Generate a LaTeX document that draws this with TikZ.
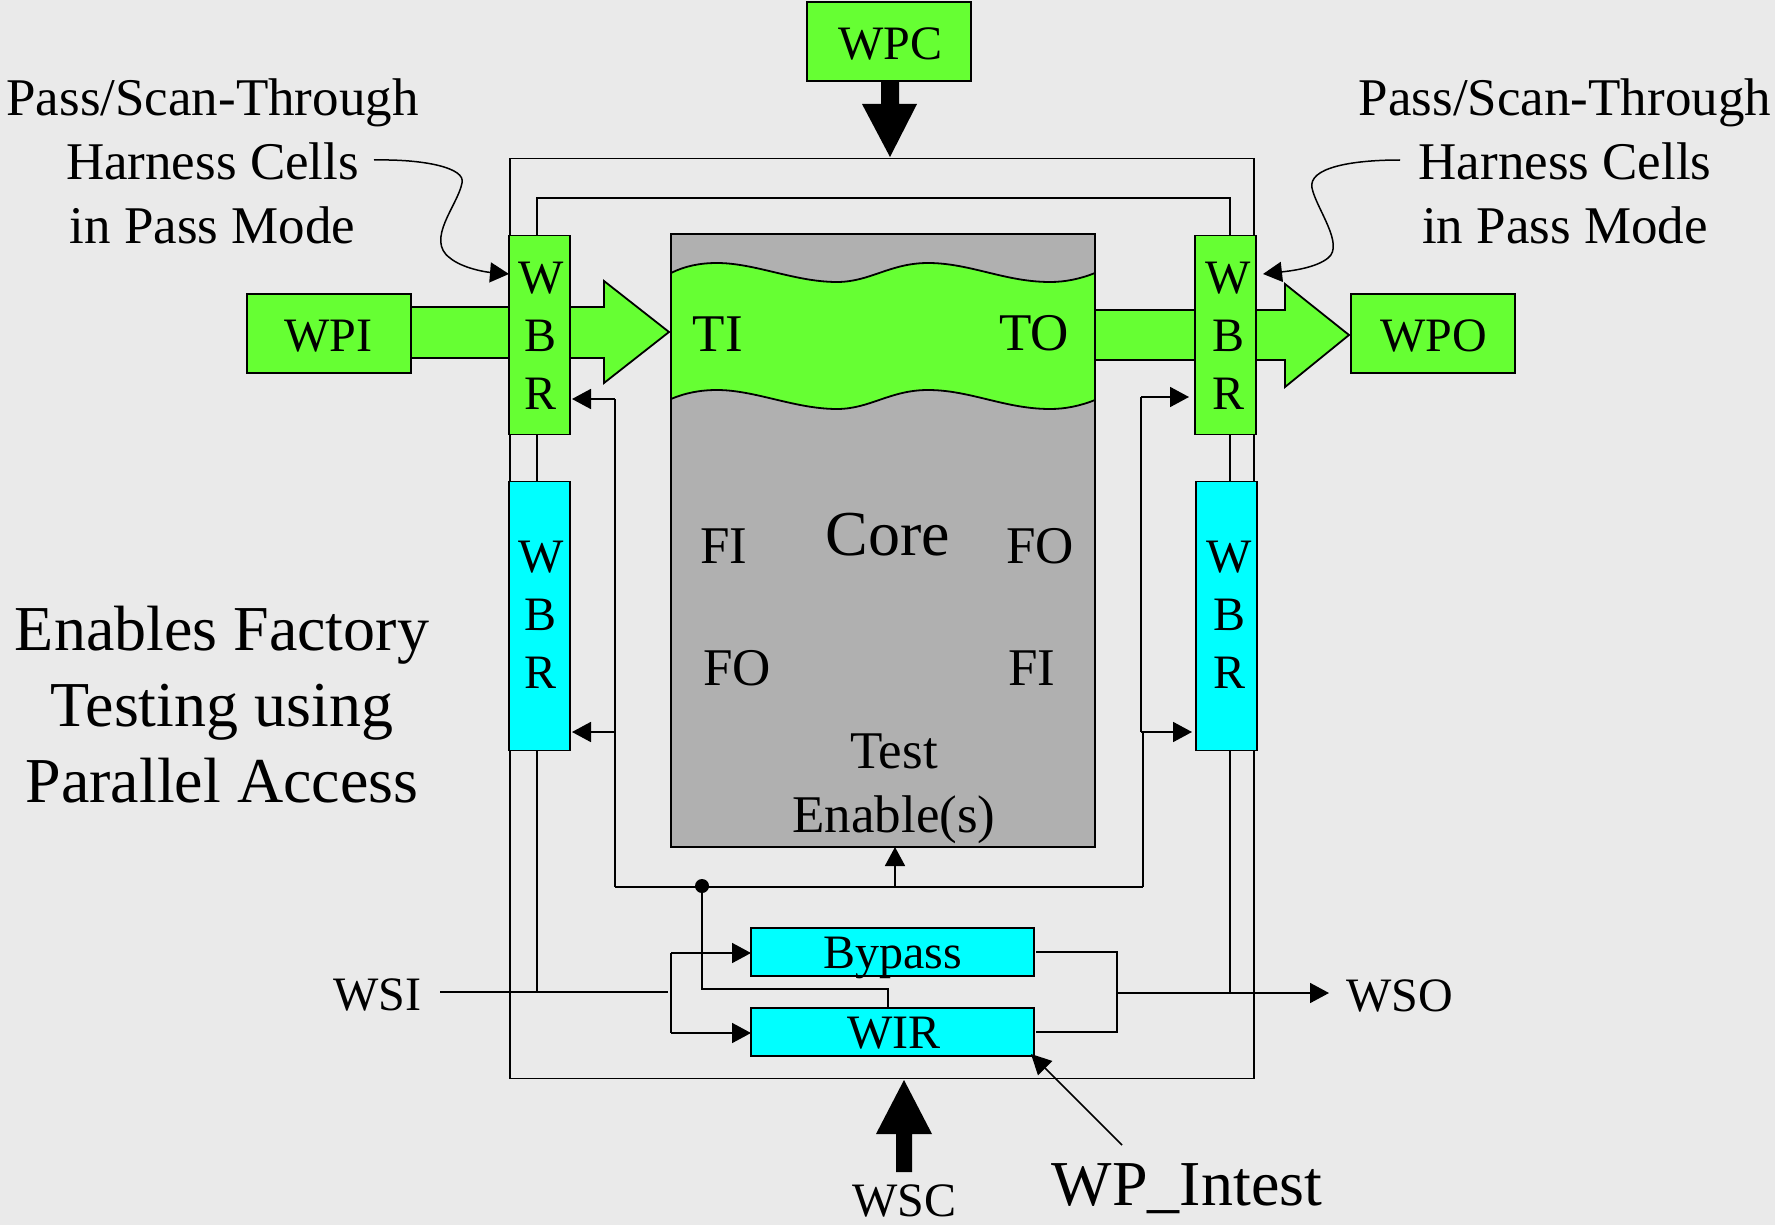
\documentclass[tikz,border=0pt]{standalone}
\usepackage{fontspec}
\setmainfont{Liberation Serif}
\usetikzlibrary{arrows.meta}
\definecolor{bgc}{HTML}{EAEAEA}
\definecolor{grn}{HTML}{66FF33}
\definecolor{cyn}{HTML}{00FFFF}
\definecolor{cor}{HTML}{B0B0B0}
\newcommand{\fs}[1]{\fontsize{#1}{#1}\selectfont}
\tikzset{
  wire/.style={draw=black,line width=1.8pt},
  tip/.style={wire,-{Triangle[length=19pt,width=20pt]}},
  box/.style={draw=black,line width=1.8pt,inner sep=0pt,outer sep=0pt,text depth=0pt,align=center},
  gbox/.style={box,fill=grn},
  cbox/.style={box,fill=cyn},
  wbr/.style={box,minimum width=61pt},
  lbl/.style={inner sep=0pt,outer sep=0pt,align=center},
  wbrlbl/.style={lbl,font=\fontsize{48}{58}\selectfont},
  big/.style={draw=black,line width=1.8pt,fill=grn,line join=miter}
}
\begin{document}
\begin{tikzpicture}[x=1pt,y=-1pt]
\useasboundingbox (0,0) rectangle (1775,1225);
\fill[bgc] (0,0) rectangle (1775,1225);

% named places
\coordinate (inL) at (537,198);
\coordinate (inR) at (1230,198);
\coordinate (busL) at (615,887);
\coordinate (busR) at (1143,887);
\coordinate (busT) at (895,887);
\coordinate (wsiS) at (440,992);
\coordinate (wsiE) at (668,992);
\coordinate (split) at (671,992);
\coordinate (wsoJ) at (1117,993);
\coordinate (wsoE) at (1329,993);

% enclosing wires
\node[draw=black,line width=1.8pt,inner sep=0pt,outer sep=0pt,minimum width=744pt,minimum height=920pt] (frame) at (882,618.5) {};
\draw[wire] (inL |- wsiS) -- (inL) -- (inR) -- (inR |- wsoJ);

% core
\node[box,fill=cor,minimum width=424pt,minimum height=613pt] (core) at (883,540.5) {};
\draw[big] (671,273)
  .. controls (685,266) and (700,263) .. (717,263)
  .. controls (755,263) and (795,282) .. (837,282)
  .. controls (870,282) and (890,263) .. (928,263)
  .. controls (970,263) and (1005,282) .. (1050,282)
  .. controls (1065,282) and (1080,279) .. (1095,273)
  -- (1095,400)
  .. controls (1080,406) and (1065,409) .. (1050,409)
  .. controls (1005,409) and (970,390) .. (928,390)
  .. controls (890,390) and (870,409) .. (837,409)
  .. controls (795,409) and (755,390) .. (717,390)
  .. controls (700,390) and (685,393) .. (671,399) -- cycle;

% big green arrows
\draw[big] (410,307) -- (604,307) -- (604,281) -- (669,332) -- (604,383) -- (604,358) -- (410,358) -- cycle;
\draw[big] (1095,310) -- (1285,310) -- (1285,284) -- (1349,335) -- (1285,387) -- (1285,360) -- (1095,360) -- cycle;

% boxes
\node[gbox,minimum width=164pt,minimum height=79pt] (wpi) at (329,333.5) {};
\node[gbox,minimum width=164pt,minimum height=79pt] (wpo) at (1433,333.5) {};
\node[gbox,minimum width=164pt,minimum height=79pt] (wpc) at (889,41.5) {};
\node[wbr,fill=grn,minimum height=199pt] (wbrLa) at (539.5,335) {};
\node[wbr,fill=grn,minimum height=199pt] (wbrRa) at (1225.5,335) {};
\node[wbr,fill=cyn,minimum height=269pt] (wbrLb) at (539.5,616) {};
\node[wbr,fill=cyn,minimum height=269pt] (wbrRb) at (1226.5,616) {};
\node[cbox,minimum width=283pt,minimum height=48pt] (byp) at (892.5,952) {};
\node[cbox,minimum width=283pt,minimum height=48pt] (wir) at (892.5,1032) {};

% thick black arrows
\fill[black] (881,81) -- (899,81) -- (899,104) -- (917,104) -- (890,157) -- (862,104) -- (881,104) -- cycle;
\fill[black] (896,1172) -- (912,1172) -- (912,1134) -- (932,1134) -- (904,1080) -- (876,1134) -- (896,1134) -- cycle;

% control bus
\draw[wire] (busL) -- (busR);
\draw[wire] (busL) -- (615,399);
\draw[tip] (615,399) -- (572,399);
\draw[tip] (615,732) -- (572,732);
\draw[wire] (busR) -- (1143,732);
\draw[wire] (1141,732) -- (1141,397);
\draw[tip] (1141,397) -- (1189,397);
\draw[tip] (1141,732) -- (1192,732);
\draw[tip] (busT) -- (busT |- core.south);
\coordinate (dot) at (702,886);
\fill[black] (dot) circle (7pt);
\draw[wire] (dot) -- (702,989) -- (888,989) -- (888,1008);

% scan path
\draw[wire] (wsiS) -- (wsiE);
\draw[wire] (671,953) -- (671,1033);
\draw[tip] (671,953) -- (byp.west |- 0,953);
\draw[tip] (671,1033) -- (wir.west |- 0,1033);
\draw[wire] (1036,952) -- (1117,952) -- (1117,1032) -- (1036,1032);
\draw[tip] (wsoJ) -- (wsoE);
\coordinate (wpS) at (1122,1145);
\draw[wire,line width=1.5pt,-{Triangle[length=20pt,width=20pt]}] (wpS) -- (1031,1054);

% curved callouts
\coordinate (cL) at (374,160);
\coordinate (cR) at (1400,160);
\draw[tip,line width=1.5pt] (cL) .. controls (425,159) and (466,168) .. (462,183)
  .. controls (458,205) and (425,240) .. (450,258)
  .. controls (462,268) and (485,272) .. (509,274);
\draw[tip,line width=1.5pt] (cR) .. controls (1350,160) and (1308,168) .. (1312,188)
  .. controls (1316,208) and (1345,245) .. (1328,258)
  .. controls (1316,268) and (1290,271) .. (1263,274);

% text
\node[lbl,font=\fs{48},anchor=base] (twpi) at (328,351) {WPI};
\node[lbl,font=\fs{48},anchor=base] (twpo) at (1434,351) {WPO};
\node[lbl,font=\fs{48},anchor=base] (twpc) at (890,60) {WPC};
\node[lbl,font=\fs{48},anchor=base] (tbyp) at (893,968) {Bypass};
\node[lbl,font=\fs{48},anchor=base] (twir) at (894,1048) {WIR};
\node[wbrlbl,anchor=center] (tLa) at (541,336) {W\\B\\R};
\node[wbrlbl,anchor=center] (tRa) at (1228,336) {W\\B\\R};
\node[wbrlbl,anchor=center] (tLb) at (541,615) {W\\B\\R};
\node[wbrlbl,anchor=center] (tRb) at (1229,615) {W\\B\\R};
\node[lbl,font=\fontsize{53}{64}\selectfont] (passL) at (212.5,161) {Pass/Scan-Through\\Harness Cells\\in Pass Mode};
\node[lbl,font=\fontsize{53}{64}\selectfont] (passR) at (1565,161) {Pass/Scan-Through\\Harness Cells\\in Pass Mode};
\node[lbl,font=\fontsize{64}{76}\selectfont] (enab) at (222,705) {Enables Factory\\Testing using\\Parallel Access};
\node[lbl,font=\fs{53},anchor=base] (ti) at (718,351) {TI};
\node[lbl,font=\fs{53},anchor=base] (to) at (1034,350) {TO};
\node[lbl,font=\fs{53},anchor=base] (fi1) at (724,563) {FI};
\node[lbl,font=\fs{53},anchor=base] (fo1) at (1040,563) {FO};
\node[lbl,font=\fs{53},anchor=base] (fo2) at (737,685) {FO};
\node[lbl,font=\fs{53},anchor=base] (fi2) at (1032,685) {FI};
\node[lbl,font=\fs{64},anchor=base] (corelbl) at (888,555) {Core};
\node[lbl,font=\fontsize{53}{64}\selectfont] (te) at (894,789) {Test\\Enable(s)};
\node[lbl,font=\fs{48},anchor=base] (wsi) at (377,1010) {WSI};
\node[lbl,font=\fs{48},anchor=base] (wso) at (1400,1011) {WSO};
\node[lbl,font=\fs{48},anchor=base] (wsc) at (904,1216) {WSC};
\node[lbl,font=\fs{64},anchor=base] (wpi2) at (1187,1205) {WP\_Intest};
\end{tikzpicture}
\end{document}
